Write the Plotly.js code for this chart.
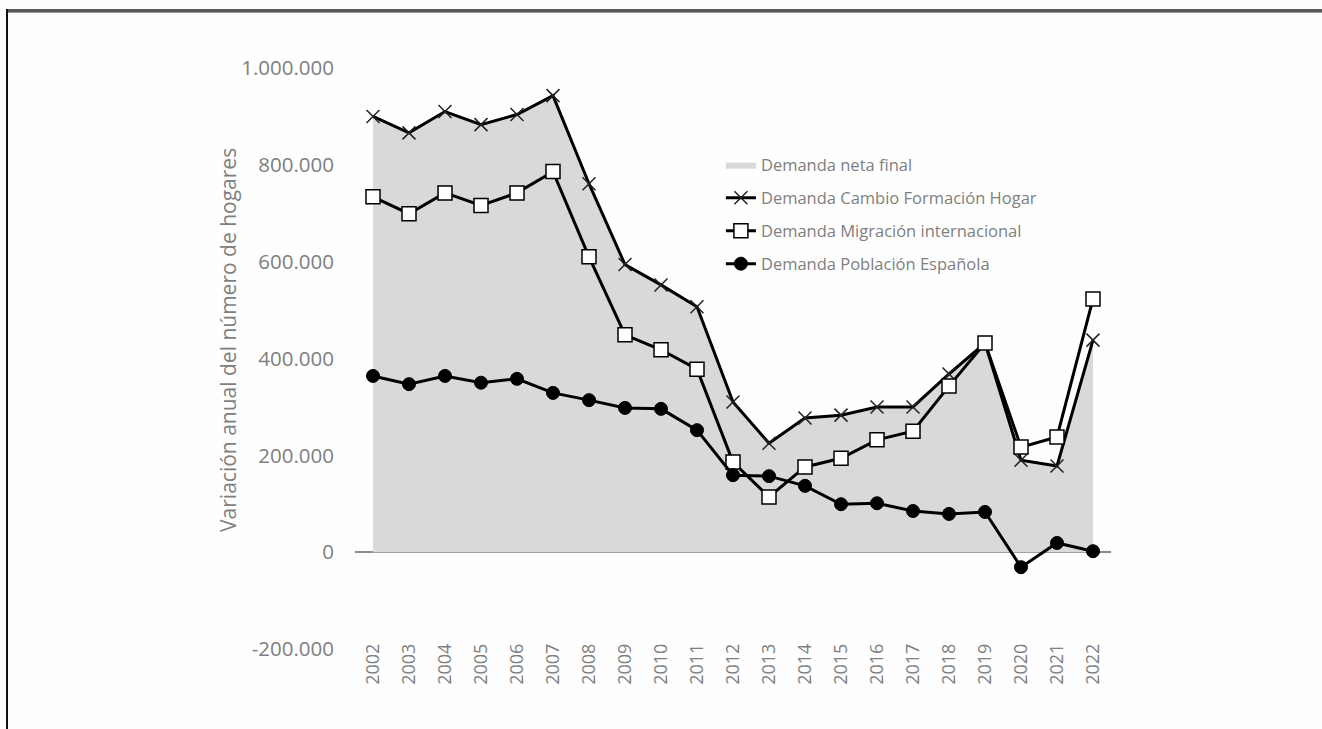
<!DOCTYPE html>
<html>
<head>
<meta charset="utf-8">
<script src="https://cdn.plot.ly/plotly-3.0.1.min.js"></script>
<style>
  html, body { margin: 0; padding: 0; background: #fefefe; }
  #wrap { position: relative; width: 1322px; height: 729px; overflow: hidden; }
  #chart { position: absolute; left: 0; top: 0; width: 1322px; height: 729px; }
  #topline { position: absolute; left: 6px; top: 9px; width: 1316px; height: 3px; background: #5a5a5a; border-bottom: 1px solid #9a9a9a; }
  #leftline { position: absolute; left: 6px; top: 9px; width: 2px; height: 720px; background: #111; }
</style>
</head>
<body>
<div id="wrap">
  <div id="chart"></div>
  <div id="topline"></div>
  <div id="leftline"></div>
</div>
<script>
const years = ["2002","2003","2004","2005","2006","2007","2008","2009","2010","2011","2012",
               "2013","2014","2015","2016","2017","2018","2019","2020","2021","2022"];
const demandaNetaFinal = [900000,866000,910000,883000,904000,943000,761000,594000,552000,507000,310000,
                          225000,277000,283000,300000,300000,368000,432000,190000,178000,438000];
const cambioFormacionHogar = [900000,866000,910000,883000,904000,943000,761000,594000,552000,507000,310000,
                              225000,277000,283000,300000,300000,368000,432000,190000,178000,438000];
const migracionInternacional = [734000,699000,742000,716000,742000,786000,610000,449000,418000,378000,186000,
                                114000,176000,194000,232000,250000,343000,432000,217000,238000,523000];
const poblacionEspanola = [364000,347000,364000,350000,358000,329000,314000,298000,296000,252000,159000,
                           157000,137000,99000,101000,85000,79000,83000,-31000,19000,2000];
const yTickVals = [-200000,0,200000,400000,600000,800000,1000000];
const yTickText = ["-200.000","0","200.000","400.000","600.000","800.000","1.000.000"];
const yTitle = "Variación anual del número de hogares";
const names = ["Demanda neta final","Demanda Cambio Formación Hogar","Demanda Migración internacional","Demanda Población Española"];

const FONT = "'Open Sans', 'Liberation Sans', sans-serif";
const GRAY = "#7f7f7f";

const traces = [
  {
    x: years, y: demandaNetaFinal, name: names[0], legendgroup: "g0", type: "scatter", mode: "lines",
    fill: "tozeroy", fillcolor: "#d9d9d9", line: {width: 0, color: "#d9d9d9"}
  },
  {
    x: years, y: cambioFormacionHogar, name: names[1], legendgroup: "g1", type: "scatter", mode: "lines+markers",
    line: {color: "#000", width: 3},
    marker: {symbol: "x-thin-open", size: 13, color: "#222", line: {color: "#222", width: 1.5}}
  },
  {
    x: years, y: migracionInternacional, name: names[2], legendgroup: "g2", type: "scatter", mode: "lines+markers",
    line: {color: "#000", width: 3},
    marker: {symbol: "square", size: 14, color: "#fff", line: {color: "#000", width: 1.5}}
  },
  {
    x: years, y: poblacionEspanola, name: names[3], legendgroup: "g3", type: "scatter", mode: "lines+markers",
    line: {color: "#000", width: 3},
    marker: {symbol: "circle", size: 13, color: "#000", line: {color: "#000", width: 1}}
  }
];

const layout = {
  width: 1322, height: 729,
  margin: {l: 355, r: 211, t: 68, b: 80, pad: 0},
  paper_bgcolor: "rgba(0,0,0,0)", plot_bgcolor: "rgba(0,0,0,0)",
  font: {family: FONT, color: GRAY, size: 19},
  showlegend: true,
  legend: {
    x: 0.484, y: 0.863, xanchor: "left", yanchor: "top",
    bgcolor: "rgba(0,0,0,0)", font: {family: FONT, size: 16.5, color: GRAY},
    tracegroupgap: 8.5, itemwidth: 30, traceorder: "grouped"
  },
  xaxis: {
    type: "category", range: [-0.5, 20.5], showgrid: false, showline: false, zeroline: false,
    ticks: "", tickangle: -90, tickfont: {family: FONT, size: 18, color: GRAY},
    ticklabelstandoff: -10, fixedrange: true
  },
  yaxis: {
    range: [-200000, 1000000], tickvals: yTickVals, ticktext: yTickText,
    showgrid: false, showline: false, ticks: "",
    zeroline: true, zerolinecolor: "#8c8c8c", zerolinewidth: 2,
    tickfont: {family: FONT, size: 20.5, color: GRAY}, ticklabelstandoff: 20, fixedrange: true
  },
  annotations: [{
    text: yTitle, xref: "paper", yref: "paper", x: -0.168, y: 0.532,
    xanchor: "center", yanchor: "middle", textangle: -90, showarrow: false,
    font: {family: FONT, size: 21, color: GRAY}
  }]
};

Plotly.newPlot("chart", traces, layout, {displayModeBar: false, staticPlot: true});
</script>
</body>
</html>
